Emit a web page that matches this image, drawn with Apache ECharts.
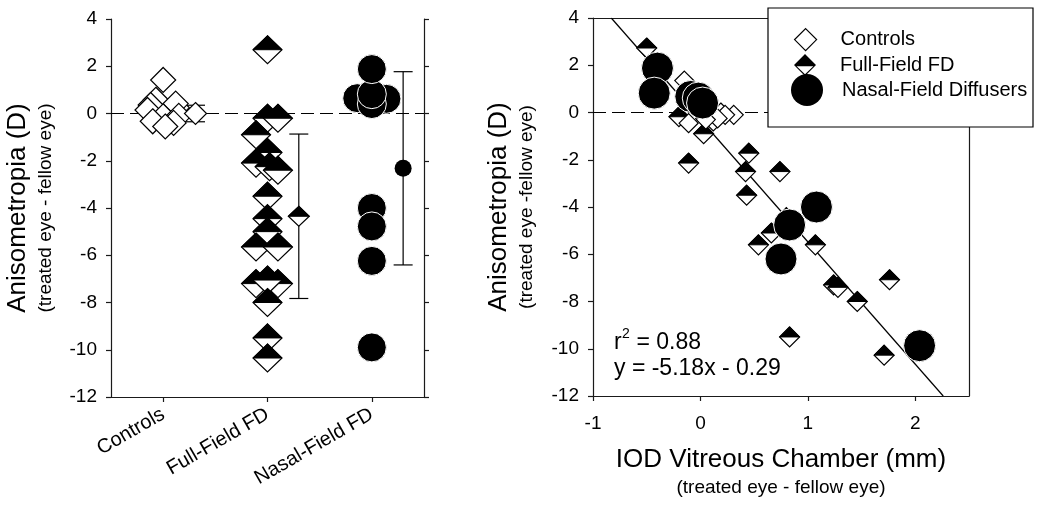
<!DOCTYPE html>
<html>
<head>
<meta charset="utf-8">
<script src="https://cdn.jsdelivr.net/npm/echarts@6/dist/echarts.min.js"></script>
<style>html,body{margin:0;padding:0;background:#fff;}#chart{width:1050px;height:507px;}</style>
</head>
<body>
<div id="chart"></div>
<script>
// ---- data ----
const groupNames = ['Controls', 'Full-Field FD', 'Nasal-Field FD'];
const groupTicks = [1, 2, 3];
const iodTicks = [-1, 0, 1, 2];

// left panel: [group position, anisometropia]
const ctrlLeft = [[1.00, 1.42], [0.93, 0.58], [0.88, 0.36], [0.85, 0.15], [1.13, 0.25], [1.12, 0.42],
  [1.00, -0.12], [1.15, -0.10], [0.90, -0.33], [1.10, -0.40], [1.02, -0.55]];
const ffLeft = [[2.00, 2.70], [2.00, -0.20], [2.10, -0.20], [1.89, -0.90], [2.00, -1.65], [1.89, -2.10],
  [2.02, -2.25], [2.10, -2.40], [2.00, -3.50], [2.00, -4.45], [2.00, -5.00], [1.89, -5.65], [2.10, -5.65],
  [1.89, -7.20], [2.10, -7.20], [2.00, -7.05], [2.00, -8.00], [2.00, -9.50], [2.00, -10.35]];
const nfLeft = [[2.86, 0.65], [3.14, 0.62], [3.00, 0.40], [3.00, 0.82], [3.00, 1.88], [3.00, -4.00],
  [3.00, -4.78], [3.00, -6.24], [3.00, -9.90]];
// group means: [position, mean, SD]
const ctrlMean = [[1.31, 0.00, 0.35]];
const ffMean = [[2.30, -4.35, 3.48]];
const nfMean = [[3.30, -2.32, 4.09]];

// right panel: [IOD vitreous chamber (mm), anisometropia (D)]
const ctrlRight = [[-0.15, 1.35], [-0.08, 0.55], [0.00, 0.30], [0.08, 0.15], [0.12, -0.38], [-0.11, -0.45],
  [0.19, 0.00], [0.31, -0.10], [0.23, -0.10], [0.16, -0.25], [0.05, -0.30]];
const ffRight = [[-0.50, 2.73], [-0.20, -0.18], [0.05, -0.25], [0.03, -0.90], [0.45, -1.72], [-0.11, -2.14],
  [0.42, -2.50], [0.74, -2.50], [0.43, -3.50], [0.80, -4.45], [0.66, -5.10], [0.54, -5.60], [1.07, -5.60],
  [1.24, -7.30], [1.28, -7.40], [1.76, -7.08], [1.46, -8.00], [0.83, -9.50], [1.71, -10.27]];
const nfRight = [[-0.40, 1.88], [-0.43, 0.82], [-0.09, 0.68], [-0.02, 0.61], [0.02, 0.40], [1.08, -4.00],
  [0.83, -4.76], [0.75, -6.20], [2.04, -9.87]];
// regression y = -5.18x - 0.29, endpoints where it meets the frame
const regLine = [[-0.83, 4], [2.26, -12]];
const regText = ['r', '2', ' = 0.88', 'y = -5.18x - 0.29'];

// ---- style ----
const FONT = "'Liberation Sans', Arial, sans-serif";
const AX = '#1a1a1a';

function halfDiamond(hw, hh) {
  return function (params, api) {
    const c = api.coord([api.value(0), api.value(1)]);
    const x = c[0], y = c[1];
    return {
      type: 'group',
      children: [
        { type: 'polygon', shape: { points: [[x, y - hh], [x + hw, y], [x, y + hh], [x - hw, y]] },
          style: { fill: '#fff', stroke: '#000', lineWidth: 1.2 } },
        { type: 'polygon', shape: { points: [[x, y - hh], [x + hw, y], [x - hw, y]] },
          style: { fill: '#000', stroke: '#000', lineWidth: 1 } }
      ]
    };
  };
}
function errBar(params, api) {
  const x = api.value(0), m = api.value(1), s = api.value(2);
  const t = api.coord([x, m + s]), b = api.coord([x, m - s]);
  const cw = 9.5;
  const st = { stroke: '#000', lineWidth: 1.2 };
  return {
    type: 'group',
    children: [
      { type: 'line', shape: { x1: t[0], y1: t[1], x2: b[0], y2: b[1] }, style: st },
      { type: 'line', shape: { x1: t[0] - cw, y1: t[1], x2: t[0] + cw, y2: t[1] }, style: st },
      { type: 'line', shape: { x1: b[0] - cw, y1: b[1], x2: b[0] + cw, y2: b[1] }, style: st }
    ]
  };
}

const axisLine = { show: true, onZero: false, lineStyle: { color: AX, width: 1.2 } };
const tick = { show: true, inside: false, length: 5, lineStyle: { color: AX, width: 1.2 } };
const lbl = { color: '#000', fontSize: 19, fontFamily: FONT };
const nameStyle = {
  color: '#000', fontFamily: FONT,
  rich: {
    t: { fontSize: 26, lineHeight: 30, fontFamily: FONT, color: '#000' },
    s: { fontSize: 19, lineHeight: 26, fontFamily: FONT, color: '#000' }
  }
};
const zeroMark = { silent: true, symbol: 'none', z: 1, label: { show: false },
  lineStyle: { color: '#000', width: 1.2, type: [13, 6] }, data: [{ yAxis: 0 }] };

const diamondPath = 'path://M10,0 L20,10 L10,20 L0,10 Z';
const halfDiamondPath = 'path://M10,0 L20,10 L10,20 L0,10 Z M2.4,11.1 L10,18.4 L17.6,11.1 Z';
const legendText = { fontSize: 20, color: '#000', fontFamily: FONT };

const option = {
  animation: false,
  backgroundColor: '#fff',
  grid: [
    { left: 111, top: 19, width: 313, height: 378 },
    { left: 593, top: 18, width: 376, height: 378 }
  ],
  xAxis: [
    { gridIndex: 0, type: 'value', min: 0.5, max: 3.5, axisLine: axisLine, splitLine: { show: false },
      axisTick: Object.assign({ customValues: groupTicks }, tick),
      axisLabel: Object.assign({}, lbl, { customValues: groupTicks, rotate: 30, margin: 16, fontSize: 20,
        formatter: v => groupNames[Math.round(v) - 1] || '' }) },
    { gridIndex: 1, type: 'value', min: -1, max: 2.5, interval: 1, axisLine: axisLine, splitLine: { show: false },
      axisTick: Object.assign({ customValues: iodTicks }, tick),
      axisLabel: Object.assign({ customValues: iodTicks, margin: 18 }, lbl),
      name: '{t|IOD Vitreous Chamber (mm)}\n{s|(treated eye - fellow eye)}',
      nameLocation: 'middle', nameGap: 49, nameTextStyle: nameStyle },
    { gridIndex: 1, type: 'value', position: 'top', min: -1, max: 2.5, interval: 1, axisLine: axisLine,
      axisTick: { show: false }, axisLabel: { show: false }, splitLine: { show: false } }
  ],
  yAxis: [
    { gridIndex: 0, type: 'value', min: -12, max: 4, interval: 2, axisLine: axisLine, axisTick: tick,
      axisLabel: Object.assign({ margin: 14 }, lbl), splitLine: { show: false },
      name: '{t|Anisometropia (D)}\n{s|(treated eye - fellow eye)}',
      nameLocation: 'middle', nameRotate: 90, nameGap: 52, nameTextStyle: nameStyle },
    { gridIndex: 0, type: 'value', position: 'right', min: -12, max: 4, interval: 2, axisLine: axisLine,
      axisTick: tick, axisLabel: { show: false }, splitLine: { show: false } },
    { gridIndex: 1, type: 'value', min: -12, max: 4, interval: 2, axisLine: axisLine, axisTick: tick,
      axisLabel: Object.assign({ margin: 14 }, lbl), splitLine: { show: false },
      name: '{t|Anisometropia (D)}\n{s|(treated eye -fellow eye)}',
      nameLocation: 'middle', nameRotate: 90, nameGap: 53, nameTextStyle: nameStyle },
    { gridIndex: 1, type: 'value', position: 'right', min: -12, max: 4, interval: 2, axisLine: axisLine,
      axisTick: { show: false }, axisLabel: { show: false }, splitLine: { show: false } }
  ],
  legend: [
    { data: [{ name: 'Controls', icon: diamondPath, itemStyle: { color: '#fff', borderColor: '#000', borderWidth: 1.2 } }],
      left: 794, top: 28, itemWidth: 60, itemHeight: 22, padding: 0, selectedMode: false, z: 20, textStyle: legendText },
    { data: [{ name: 'Full-Field FD', icon: halfDiamondPath, itemStyle: { color: '#000', borderWidth: 0 } }],
      left: 794, top: 54, itemWidth: 60, itemHeight: 22, padding: 0, selectedMode: false, z: 20, textStyle: legendText },
    { data: [{ name: 'Nasal-Field Diffusers', icon: 'circle', itemStyle: { color: '#000', borderWidth: 0 } }],
      left: 791, top: 74, itemWidth: 60, itemHeight: 32, padding: 0, selectedMode: false, z: 20, textStyle: legendText }
  ],
  graphic: [
    { type: 'rect', z: 10, shape: { x: 768, y: 8, width: 265, height: 119 },
      style: { fill: '#fff', stroke: '#000', lineWidth: 1.2 } },
    { type: 'text', z: 10, x: 614, y: 343, style: { text: regText[0], fontSize: 23, fontFamily: FONT, fill: '#000',
      verticalAlign: 'middle', textVerticalAlign: 'middle' } },
    { type: 'text', z: 10, x: 622, y: 334, style: { text: regText[1], fontSize: 14, fontFamily: FONT, fill: '#000',
      verticalAlign: 'middle', textVerticalAlign: 'middle' } },
    { type: 'text', z: 10, x: 630, y: 343, style: { text: regText[2], fontSize: 23, fontFamily: FONT, fill: '#000',
      verticalAlign: 'middle', textVerticalAlign: 'middle' } },
    { type: 'text', z: 10, x: 614, y: 369, style: { text: regText[3], fontSize: 23, fontFamily: FONT, fill: '#000',
      verticalAlign: 'middle', textVerticalAlign: 'middle' } }
  ],
  series: [
    // left panel
    { type: 'custom', name: 'bars', xAxisIndex: 0, yAxisIndex: 0, z: 2, renderItem: errBar,
      data: ctrlMean.concat(ffMean, nfMean), encode: { x: 0, y: 1 }, markLine: zeroMark },
    { type: 'scatter', name: 'Controls', xAxisIndex: 0, yAxisIndex: 0, z: 3, data: ctrlLeft,
      symbol: 'diamond', symbolSize: 25, itemStyle: { color: '#fff', borderColor: '#000', borderWidth: 1.2, opacity: 1 } },
    { type: 'custom', name: 'Full-Field FD', xAxisIndex: 0, yAxisIndex: 0, z: 3, data: ffLeft,
      renderItem: halfDiamond(14.5, 14), encode: { x: 0, y: 1 }, itemStyle: { color: '#000' } },
    { type: 'scatter', name: 'Nasal-Field Diffusers', xAxisIndex: 0, yAxisIndex: 0, z: 3, data: nfLeft,
      symbol: 'circle', symbolSize: 29, itemStyle: { color: '#000', borderColor: '#fff', borderWidth: 1, opacity: 1 } },
    { type: 'scatter', name: 'Controls', xAxisIndex: 0, yAxisIndex: 0, z: 4, data: ctrlMean,
      symbol: 'diamond', symbolSize: 22, itemStyle: { color: '#fff', borderColor: '#000', borderWidth: 1.2, opacity: 1 } },
    { type: 'custom', name: 'Full-Field FD', xAxisIndex: 0, yAxisIndex: 0, z: 4, data: ffMean,
      renderItem: halfDiamond(10.5, 10), encode: { x: 0, y: 1 }, itemStyle: { color: '#000' } },
    { type: 'scatter', name: 'Nasal-Field Diffusers', xAxisIndex: 0, yAxisIndex: 0, z: 4, data: nfMean,
      symbol: 'circle', symbolSize: 17, itemStyle: { color: '#000', opacity: 1 } },
    // right panel
    { type: 'line', name: 'fit', xAxisIndex: 1, yAxisIndex: 2, z: 2, data: regLine, symbol: 'none',
      lineStyle: { color: '#000', width: 1.2 }, markLine: zeroMark },
    { type: 'scatter', name: 'Controls', xAxisIndex: 1, yAxisIndex: 2, z: 3, data: ctrlRight,
      symbol: 'diamond', symbolSize: 19, itemStyle: { color: '#fff', borderColor: '#000', borderWidth: 1.2, opacity: 1 } },
    { type: 'custom', name: 'Full-Field FD', xAxisIndex: 1, yAxisIndex: 2, z: 3, data: ffRight,
      renderItem: halfDiamond(10, 10), encode: { x: 0, y: 1 }, itemStyle: { color: '#000' } },
    { type: 'scatter', name: 'Nasal-Field Diffusers', xAxisIndex: 1, yAxisIndex: 2, z: 3, data: nfRight,
      symbol: 'circle', symbolSize: 32, itemStyle: { color: '#000', borderColor: '#fff', borderWidth: 1, opacity: 1 } }
  ]
};

const chart = echarts.init(document.getElementById('chart'), null, { renderer: 'canvas' });
chart.setOption(option);
</script>
</body>
</html>
